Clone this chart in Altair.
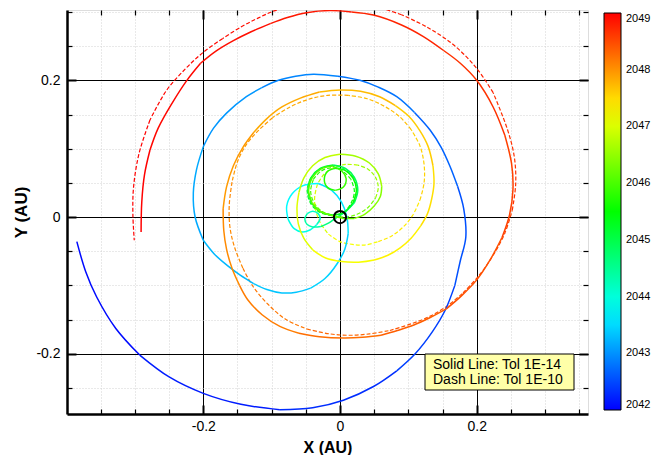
import altair as alt
import pandas as pd

# ---------------- data (AU, year) ----------------
sol_x = [
    -0.385, -0.372, -0.356, -0.328, -0.293, -0.250, -0.200, -0.145, -0.088, -0.040,
    0.005, 0.049, 0.083, 0.110, 0.135, 0.154, 0.168, 0.176, 0.184, 0.181,
    0.172, 0.161, 0.148, 0.132, 0.109, 0.083, 0.056, 0.029, -0.003, -0.039,
    -0.065, -0.090, -0.115, -0.137, -0.166, -0.185, -0.200, -0.210, -0.2146, -0.212,
    -0.200, -0.184, -0.166, -0.146, -0.127, -0.107, -0.085, -0.064, -0.043, -0.022,
    -0.004, 0.007, 0.012, 0.010, 0.002, -0.012, -0.032, -0.054, -0.070, -0.078,
    -0.076, -0.067, -0.055, -0.044, -0.034, -0.029, -0.032, -0.040, -0.048, -0.0515,
    -0.048, -0.040, -0.028, -0.017, -0.007, 0.008, 0.021, 0.026, 0.021, 0.008,
    -0.010, -0.029, -0.042, -0.047, -0.042, -0.029, -0.011, 0.006, 0.019, 0.024,
    0.019, 0.008, -0.006, -0.018, -0.023, -0.018, -0.007, 0.005, 0.009, 0.003,
    -0.011, -0.028, -0.041, -0.046, -0.041, -0.028, -0.011, 0.005, 0.021, 0.036,
    0.050, 0.059, 0.061, 0.056, 0.043, 0.023, 0.000, -0.022, -0.040, -0.053,
    -0.060, -0.063, -0.061, -0.053, -0.040, -0.021, 0.002, 0.027, 0.050, 0.070,
    0.088, 0.104, 0.118, 0.128, 0.134, 0.1375, 0.136, 0.129, 0.117, 0.101,
    0.081, 0.058, 0.030, 0.000, -0.030, -0.058, -0.085, -0.107, -0.126, -0.142,
    -0.156, -0.166, -0.171, -0.170, -0.166, -0.158, -0.147, -0.135, -0.114, -0.088,
    -0.060, -0.030, 0.005, 0.033, 0.060, 0.084, 0.108, 0.132, 0.156, 0.178,
    0.200, 0.220, 0.237, 0.248, 0.253, 0.251, 0.241, 0.224, 0.200, 0.176,
    0.151, 0.122, 0.090, 0.049, 0.017, -0.015, -0.049, -0.077, -0.102, -0.130,
    -0.156, -0.181, -0.204, -0.224, -0.246, -0.266, -0.278, -0.286, -0.290, -0.291,
]
sol_y = [
    -0.036, -0.080, -0.117, -0.163, -0.202, -0.234, -0.258, -0.274, -0.282, -0.279,
    -0.268, -0.248, -0.225, -0.200, -0.168, -0.136, -0.100, -0.064, -0.030, 0.012,
    0.045, 0.074, 0.102, 0.127, 0.153, 0.176, 0.190, 0.200, 0.206, 0.209,
    0.206, 0.200, 0.189, 0.176, 0.152, 0.130, 0.103, 0.069, 0.035, 0.000,
    -0.034, -0.054, -0.070, -0.085, -0.097, -0.106, -0.111, -0.110, -0.104, -0.090,
    -0.068, -0.047, -0.024, 0.000, 0.022, 0.039, 0.049, 0.046, 0.034, 0.016,
    -0.003, -0.017, -0.022, -0.019, -0.011, -0.002, 0.005, 0.0085, 0.005, -0.003,
    -0.011, -0.0145, -0.014, -0.009, -0.002, 0.008, 0.021, 0.039, 0.058, 0.071,
    0.076, 0.071, 0.058, 0.040, 0.021, 0.008, 0.003, 0.007, 0.021, 0.040,
    0.057, 0.068, 0.0715, 0.067, 0.055, 0.043, 0.039, 0.044, 0.056, 0.067,
    0.0745, 0.070, 0.057, 0.039, 0.021, 0.008, 0.002, -0.002, -0.002, 0.004,
    0.016, 0.030, 0.045, 0.063, 0.079, 0.089, 0.092, 0.087, 0.075, 0.057,
    0.036, 0.013, -0.010, -0.031, -0.048, -0.060, -0.065, -0.066, -0.063, -0.056,
    -0.045, -0.031, -0.013, 0.005, 0.026, 0.049, 0.075, 0.103, 0.126, 0.147,
    0.163, 0.176, 0.184, 0.186, 0.183, 0.174, 0.161, 0.144, 0.124, 0.102,
    0.075, 0.044, 0.012, -0.020, -0.047, -0.075, -0.100, -0.121, -0.143, -0.160,
    -0.170, -0.175, -0.177, -0.176, -0.173, -0.166, -0.158, -0.147, -0.134, -0.115,
    -0.092, -0.062, -0.030, 0.003, 0.040, 0.078, 0.120, 0.161, 0.200, 0.225,
    0.244, 0.264, 0.281, 0.2955, 0.300, 0.302, 0.299, 0.292, 0.283, 0.271,
    0.258, 0.243, 0.225, 0.200, 0.166, 0.130, 0.098, 0.062, 0.022, -0.022,
]
sol_t = [
    2042.00, 2042.04, 2042.07, 2042.10, 2042.13, 2042.16, 2042.19, 2042.22, 2042.25, 2042.28,
    2042.31, 2042.34, 2042.37, 2042.40, 2042.43, 2042.46, 2042.49, 2042.52, 2042.55, 2042.58,
    2042.61, 2042.64, 2042.67, 2042.70, 2042.73, 2042.76, 2042.79, 2042.82, 2042.85, 2042.88,
    2042.91, 2042.94, 2042.97, 2043.00, 2043.04, 2043.07, 2043.10, 2043.13, 2043.16, 2043.19,
    2043.22, 2043.25, 2043.27, 2043.29, 2043.31, 2043.33, 2043.35, 2043.37, 2043.39, 2043.42,
    2043.45, 2043.48, 2043.51, 2043.54, 2043.57, 2043.61, 2043.65, 2043.69, 2043.73, 2043.77,
    2043.81, 2043.86, 2043.91, 2043.97, 2044.03, 2044.09, 2044.14, 2044.19, 2044.24, 2044.29,
    2044.34, 2044.39, 2044.46, 2044.55, 2044.65, 2044.75, 2044.81, 2044.87, 2044.93, 2044.99,
    2045.05, 2045.11, 2045.17, 2045.22, 2045.27, 2045.32, 2045.37, 2045.42, 2045.47, 2045.52,
    2045.57, 2045.61, 2045.65, 2045.69, 2045.73, 2045.77, 2045.81, 2045.85, 2045.89, 2045.93,
    2045.97, 2046.01, 2046.05, 2046.09, 2046.13, 2046.17, 2046.21, 2046.26, 2046.31, 2046.36,
    2046.41, 2046.46, 2046.51, 2046.56, 2046.61, 2046.66, 2046.71, 2046.76, 2046.81, 2046.86,
    2046.93, 2046.98, 2047.03, 2047.08, 2047.12, 2047.16, 2047.20, 2047.24, 2047.27, 2047.30,
    2047.33, 2047.36, 2047.39, 2047.42, 2047.46, 2047.50, 2047.53, 2047.56, 2047.59, 2047.62,
    2047.65, 2047.68, 2047.72, 2047.75, 2047.78, 2047.81, 2047.84, 2047.86, 2047.89, 2047.92,
    2047.95, 2047.97, 2048.00, 2048.03, 2048.05, 2048.08, 2048.10, 2048.13, 2048.15, 2048.18,
    2048.20, 2048.23, 2048.25, 2048.28, 2048.30, 2048.33, 2048.35, 2048.38, 2048.40, 2048.43,
    2048.45, 2048.48, 2048.50, 2048.53, 2048.55, 2048.58, 2048.61, 2048.63, 2048.66, 2048.69,
    2048.71, 2048.73, 2048.75, 2048.78, 2048.80, 2048.82, 2048.84, 2048.86, 2048.875, 2048.89,
    2048.905, 2048.92, 2048.935, 2048.95, 2048.96, 2048.97, 2048.98, 2048.99, 2048.995, 2049.00,
]

dash_x = [
    -0.007, 0.007, 0.020, 0.025, 0.020, 0.007, -0.011, -0.030, -0.043, -0.048,
    -0.043, -0.030, -0.012, 0.004, 0.016, 0.021, 0.016, 0.004, -0.012, -0.028,
    -0.039, -0.043, -0.038, -0.026, -0.010, 0.008, 0.025, 0.041, 0.052, 0.056,
    0.052, 0.041, 0.026, 0.009, -0.008, -0.023, -0.033, -0.037, -0.036, -0.029,
    -0.017, 0.000, 0.018, 0.036, 0.056, 0.075, 0.092, 0.106, 0.117, 0.123,
    0.123, 0.117, 0.104, 0.087, 0.065, 0.040, 0.012, -0.018, -0.047, -0.075,
    -0.099, -0.120, -0.137, -0.150, -0.158, -0.162, -0.161, -0.154, -0.142, -0.127,
    -0.105, -0.079, -0.048, -0.015, 0.015, 0.043, 0.073, 0.105, 0.132, 0.157,
    0.180, 0.203, 0.224, 0.241, 0.252, 0.257, 0.255, 0.245, 0.224, 0.200,
    0.166, 0.127, 0.090, 0.055, 0.018, -0.020, -0.058, -0.095, -0.120, -0.145,
    -0.172, -0.200, -0.226, -0.254, -0.278, -0.294, -0.302, -0.303, -0.301,
]
dash_y = [
    -0.002, 0.007, 0.021, 0.039, 0.057, 0.070, 0.075, 0.070, 0.057, 0.039,
    0.020, 0.007, 0.002, 0.006, 0.020, 0.038, 0.055, 0.067, 0.072, 0.067,
    0.055, 0.038, 0.021, 0.008, 0.002, 0.000, 0.004, 0.014, 0.028, 0.043,
    0.058, 0.070, 0.076, 0.077, 0.073, 0.063, 0.048, 0.030, 0.012, -0.008,
    -0.025, -0.036, -0.040, -0.041, -0.036, -0.028, -0.015, 0.002, 0.025, 0.050,
    0.077, 0.104, 0.128, 0.147, 0.162, 0.173, 0.178, 0.178, 0.172, 0.160,
    0.145, 0.126, 0.106, 0.081, 0.051, 0.018, -0.015, -0.045, -0.075, -0.102,
    -0.128, -0.150, -0.164, -0.171, -0.173, -0.171, -0.166, -0.156, -0.145, -0.130,
    -0.111, -0.086, -0.056, -0.024, 0.010, 0.048, 0.088, 0.128, 0.182, 0.2175,
    0.252, 0.278, 0.296, 0.307, 0.314, 0.315, 0.311, 0.302, 0.291, 0.278,
    0.261, 0.241, 0.217, 0.185, 0.142, 0.093, 0.044, 0.003, -0.034,
]
dash_t = [
    2044.65, 2044.75, 2044.81, 2044.87, 2044.93, 2044.99, 2045.05, 2045.11, 2045.17, 2045.22,
    2045.27, 2045.32, 2045.37, 2045.45, 2045.52, 2045.58, 2045.64, 2045.70, 2045.76, 2045.82,
    2045.88, 2045.94, 2046.00, 2046.06, 2046.12, 2046.20, 2046.28, 2046.36, 2046.44, 2046.50,
    2046.56, 2046.62, 2046.67, 2046.72, 2046.77, 2046.82, 2046.87, 2046.92, 2046.97, 2047.02,
    2047.08, 2047.14, 2047.19, 2047.24, 2047.29, 2047.34, 2047.39, 2047.43, 2047.47, 2047.51,
    2047.55, 2047.59, 2047.63, 2047.67, 2047.71, 2047.74, 2047.77, 2047.80, 2047.83, 2047.86,
    2047.89, 2047.92, 2047.95, 2047.98, 2048.01, 2048.04, 2048.07, 2048.10, 2048.13, 2048.16,
    2048.19, 2048.22, 2048.25, 2048.28, 2048.31, 2048.34, 2048.37, 2048.40, 2048.43, 2048.46,
    2048.49, 2048.52, 2048.55, 2048.58, 2048.61, 2048.64, 2048.67, 2048.70, 2048.73, 2048.76,
    2048.79, 2048.81, 2048.83, 2048.85, 2048.87, 2048.88, 2048.89, 2048.90, 2048.91, 2048.92,
    2048.935, 2048.95, 2048.96, 2048.97, 2048.98, 2048.99, 2048.995, 2048.998, 2049.00,
]

origin_x = [0.0]
origin_y = [0.0]

year_ticks = [2042, 2043, 2044, 2045, 2046, 2047, 2048, 2049]
color_stops = [2042, 2043.75, 2045.5, 2047.25, 2049]
color_range = ["#0000ff", "#00ffff", "#00ff00", "#ffff00", "#ff0000"]

major_ticks = [-0.2, 0.0, 0.2]
minor_x = [-0.35, -0.3, -0.25, -0.15, -0.1, -0.05, 0.05, 0.1, 0.15, 0.25, 0.3, 0.35]
minor_y = [-0.25, -0.15, -0.1, -0.05, 0.05, 0.1, 0.15, 0.25, 0.3]

note_lines = ["Solid Line: Tol 1E-14", "Dash Line: Tol 1E-10"]


# ---------------- tables ----------------
def build_chunks(xs, ys, ts, step=4):
    rows = []
    k = 0
    for c, s in enumerate(range(0, len(xs) - 1, step)):
        e = min(s + step, len(xs) - 1)
        tm = sum(ts[s:e + 1]) / (e - s + 1)
        for i in range(s, e + 1):
            rows.append({"x": xs[i], "y": ys[i], "t": tm, "seg": c, "k": k})
            k += 1
    return pd.DataFrame(rows)


solid_df = build_chunks(sol_x, sol_y, sol_t)
dash_df = build_chunks(dash_x, dash_y, dash_t)
origin_df = pd.DataFrame({"x": origin_x, "y": origin_y})
note_df = pd.DataFrame({"n": [0]})

FONT = "Liberation Sans"
LAB = ("datum.value < 0 ? '-' + format(-datum.value, '.1f') : "
       "(datum.value == 0 ? '0' : format(datum.value, '.1f'))")

xscale = alt.Scale(domain=[-0.3994, 0.3628], nice=False, zero=False)
yscale = alt.Scale(domain=[-0.2882, 0.3029], nice=False, zero=False)
cscale = alt.Scale(domain=color_stops, range=color_range, interpolate="rgb")

legend = alt.Legend(
    orient="none", legendX=537, legendY=3, direction="vertical",
    gradientLength=397, gradientThickness=17, values=year_ticks, format="d",
    labelOverlap=False, title=None, gradientStrokeColor="black",
    gradientStrokeWidth=1, labelFont=FONT, labelFontSize=11, labelColor="black",
    labelOffset=5, labelBaseline="middle",
)


def main_axis(orient, title, pad, tpad, tsize):
    return alt.Axis(
        orient=orient, values=major_ticks, labelExpr=LAB, grid=True,
        gridColor="black", gridWidth=1, gridOpacity=1, ticks=False, tickSize=0,
        domain=True, domainColor="black", domainWidth=2.5, labelFont=FONT,
        labelFontSize=14, labelColor="black", labelPadding=pad, title=title,
        titleFont=FONT, titleFontSize=tsize, titleFontWeight="bold",
        titleColor="black", titlePadding=tpad,
    )


def grid_axis(orient, vals):
    return alt.Axis(
        orient=orient, values=vals, grid=True, gridColor="#d2d2d2",
        gridDash=[1, 2], gridWidth=1, ticks=False, labels=False, domain=False,
        title=None,
    )


def tick_axis(orient, vals, size, width):
    return alt.Axis(
        orient=orient, values=vals, offset=-size, tickSize=size,
        tickWidth=width, tickColor="black", ticks=True, labels=False,
        domain=False, grid=False, title=None,
    )


solid = alt.Chart(solid_df).mark_line(
    strokeWidth=1.5, interpolate="catmull-rom", clip=True
).encode(
    x=alt.X("x:Q", scale=xscale, axis=main_axis("bottom", "X (AU)", 5, 6, 16)),
    y=alt.Y("y:Q", scale=yscale, axis=main_axis("left", "Y (AU)", 7, 5, 17)),
    color=alt.Color("t:Q", scale=cscale, legend=legend),
    detail="seg:N",
    order="k:Q",
)

dashed = alt.Chart(dash_df).mark_line(
    strokeWidth=1.2, strokeDash=[4, 2], interpolate="catmull-rom", clip=True
).encode(
    x=alt.X("x:Q", scale=xscale, axis=grid_axis("bottom", minor_x)),
    y=alt.Y("y:Q", scale=yscale, axis=grid_axis("left", minor_y)),
    color=alt.Color("t:Q", scale=cscale, legend=legend),
    detail="seg:N",
    order="k:Q",
)

marker = alt.Chart(origin_df).mark_point(
    shape="circle", size=150, filled=False, stroke="black", strokeWidth=2, opacity=1
).encode(
    x=alt.X("x:Q", scale=xscale, axis=tick_axis("bottom", minor_x, 5, 1.2)),
    y=alt.Y("y:Q", scale=yscale, axis=tick_axis("left", minor_y, 5, 1.2)),
)


def ghost(xo, yo, xv, yv, size, width):
    return alt.Chart(origin_df).mark_point(opacity=0).encode(
        x=alt.X("x:Q", scale=xscale, axis=tick_axis(xo, xv, size, width)),
        y=alt.Y("y:Q", scale=yscale, axis=tick_axis(yo, yv, size, width)),
    )


ticks_top_right = ghost("top", "right", minor_x, minor_y, 5, 1.2)
major_bl = ghost("bottom", "left", major_ticks, major_ticks, 9, 2)
major_tr = ghost("top", "right", major_ticks, major_ticks, 9, 2)

box = alt.Chart(note_df).mark_rect(
    fill="#ffffa8", stroke="black", strokeWidth=1
).encode(
    x=alt.value(358), x2=alt.value(507), y=alt.value(344), y2=alt.value(380)
)
note1 = alt.Chart(note_df).mark_text(
    align="left", baseline="middle", font=FONT, fontSize=14, color="black"
).encode(x=alt.value(366), y=alt.value(355), text=alt.value(note_lines[0]))
note2 = alt.Chart(note_df).mark_text(
    align="left", baseline="middle", font=FONT, fontSize=14, color="black"
).encode(x=alt.value(366), y=alt.value(370), text=alt.value(note_lines[1]))

chart = alt.layer(
    dashed, solid, marker, ticks_top_right, major_bl, major_tr, box, note1, note2
).resolve_axis(
    x="independent", y="independent"
).properties(
    width=521, height=404,
    autosize=alt.AutoSizeParams(type="none"),
    padding={"left": 59, "top": 2, "right": 64, "bottom": 41},
).configure_view(
    stroke="black", strokeWidth=1.5
).configure(background="white")

chart.save("out.html", embed_options={"renderer": "svg", "actions": False})
